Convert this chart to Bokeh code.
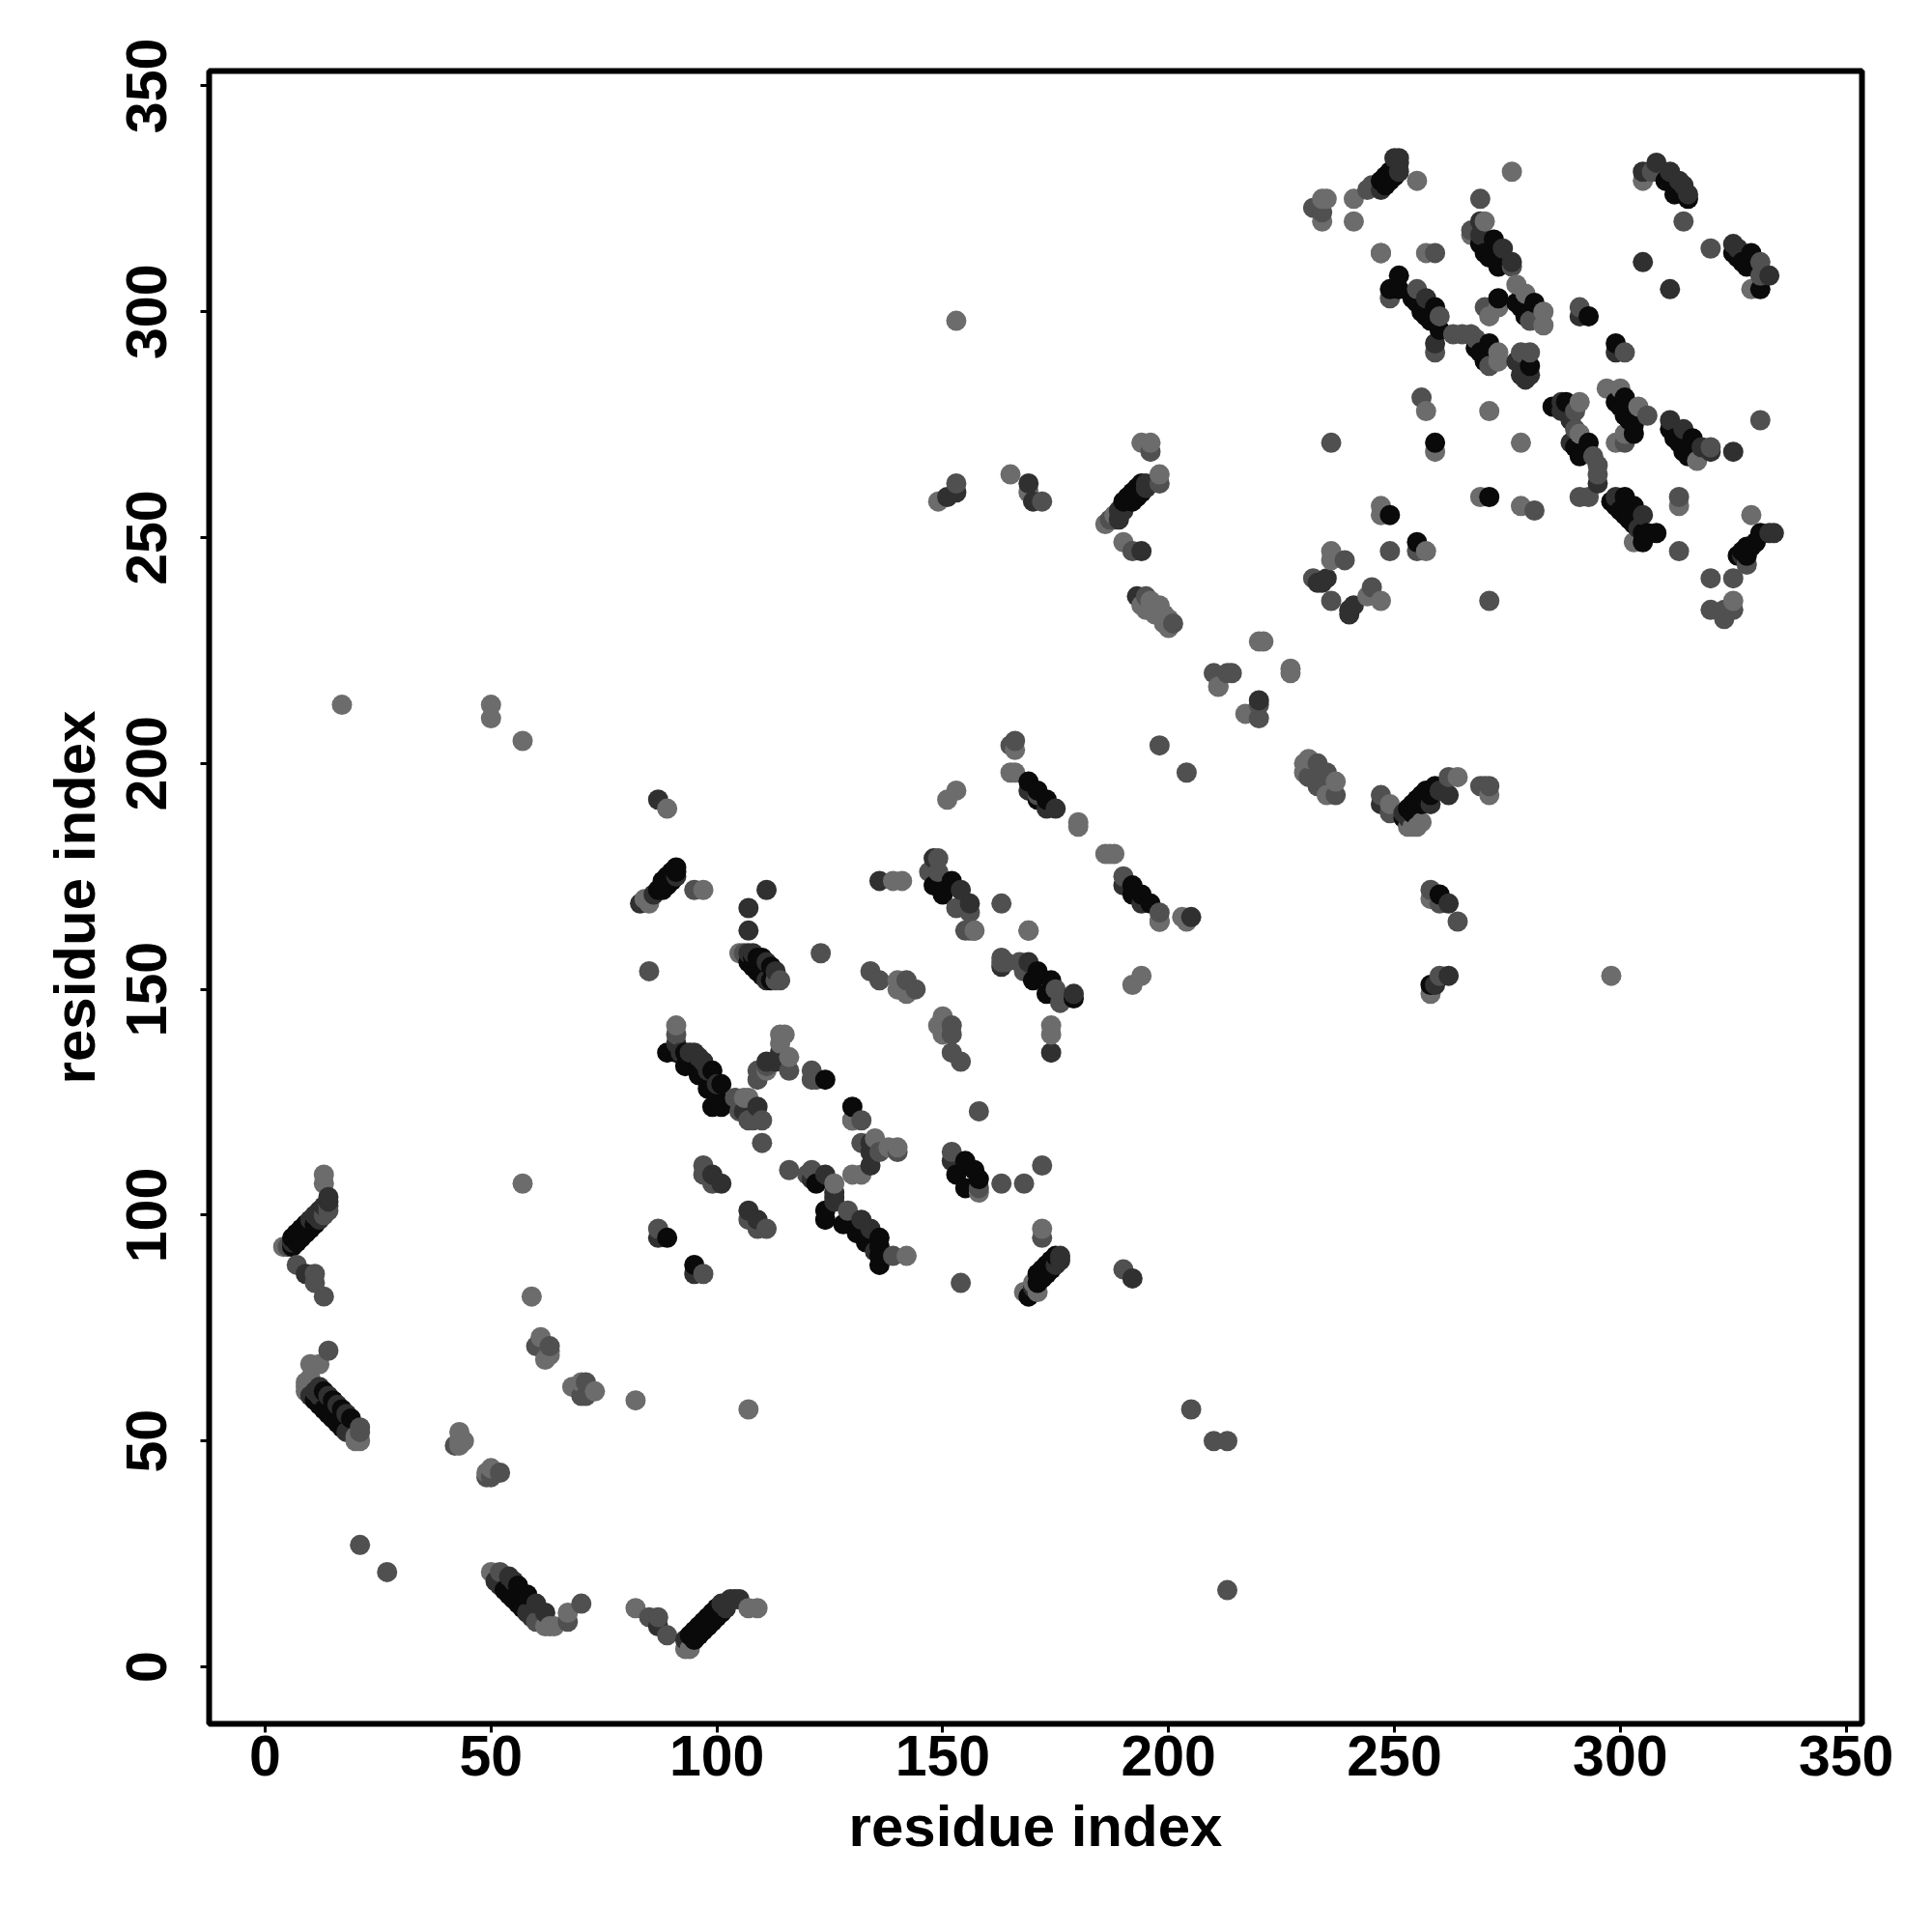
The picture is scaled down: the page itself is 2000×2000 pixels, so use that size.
import numpy as np
from bokeh.plotting import figure
from bokeh.models import FixedTicker, ColumnDataSource, Range1d
from bokeh.embed import file_html
from bokeh.resources import INLINE

tick_values = [0, 50, 100, 150, 200, 250, 300, 350]
axis_title = "residue index"

strongest = [
 (6,95),(7,94),(7,96),(8,95),(8,97),(9,96),(9,98),(10,97),(11,98),(6,93),
 (11,59),(12,58),(13,57),(14,56),(15,55),(16,54),(17,53),(13,61),(15,59),(17,57),(19,55),
 (53,17),(54,16),(55,15),(56,14),(57,13),(56,18),(58,16),
 (94,7),(95,6),(95,8),(96,7),(96,9),(97,8),(97,10),(98,9),(98,11),(99,10),(99,12),(100,11),(100,13),(101,12),
 (108,157),(107,156),(108,155),(109,154),(109,157),(110,153),(110,157),(112,155),(112,152),
 (89,136),(91,136),(93,136),(96,133),(93,133),(96,131),(98,128),(99,132),(101,124),(99,124),(101,129),(100,126),
 (124,130),(130,124),(122,107),(124,101),(124,99),(128,98),(131,96),(133,94),(136,95),(136,93),(136,91),(136,89),
 (89,95),(95,89),(155,112),(157,110),(158,108),(153,109),(155,106),
 (169,82),(171,85),(171,87),(172,86),(172,88),(173,87),(173,89),(174,88),(174,90),(175,91),
 (87,172),(88,172),(88,174),(89,173),(89,175),(90,174),(90,176),(91,176),(91,177),
 (169,196),(171,194),(171,192),(173,192),(192,173),(192,171),(194,171),(196,169),
 (152,174),(148,173),(150,171),(171,154),(174,152),(170,152),(173,149),(179,148),
 (190,258),(191,259),(192,258),(192,260),(193,259),(193,261),(194,260),(194,262),
 (252,188),(253,190),(254,189),(254,191),(255,190),(255,192),(256,191),(256,193),(257,192),(257,194),(258,193),(259,195),
 (248,328),(248,330),(249,329),(249,331),(250,330),(250,332),(247,329),
 (269,315),(272,316),(270,313),(273,310),(271,312),
 (310,329),(312,326),(313,327),(315,325),(314,326),
 (325,313),(326,312),(329,313),(328,310),(327,311),(331,305),
 (251,308),(249,305),(251,305),(254,303),(256,300),(258,298),(259,301),(260,296),(255,302),(257,299),
 (271,293),(268,292),(270,289),(269,291),(280,288),
 (273,303),(277,302),(279,299),(278,301),(281,302),(293,299),(299,293),
 (301,281),(299,280),(301,277),(303,275),(303,273),(300,279),(302,276),
 (285,279),(288,280),(293,271),(291,268),(290,270),
 (301,259),(303,257),(298,258),(300,256),(302,254),(299,257),(301,255),(303,253),(305,251),(308,251),(305,249),(306,251),
 (311,274),(316,272),(312,272),(314,269),(313,271),(315,268),
 (331,251),(330,249),(327,247),(329,248),(328,246),(326,246),(328,248),
 (259,271),(271,259),(249,255),(255,249),(260,171),(258,151),
]
dark = [
 (6,94),(10,99),(11,100),(12,99),(12,101),(13,102),(14,103),(14,104),(9,87),
 (10,60),(11,61),(12,60),(12,62),(14,60),(16,58),(18,56),(18,52),
 (51,19),(52,18),(58,12),(59,11),(54,20),(55,19),(60,14),(62,12),(87,9),(93,6),(101,14),(102,13),(103,15),(104,15),(105,15),
 (107,158),(108,158),(111,156),(111,152),(113,154),(107,163),
 (91,138),(92,136),(94,136),(95,136),(96,135),(97,134),(98,132),(100,129),(109,124),(106,123),(111,134),(113,134),(114,136),(115,134),
 (130,121),(134,116),(134,114),(134,111),(99,109),(101,107),(107,101),(109,99),(87,95),(95,87),
 (121,108),(124,109),(126,105),(126,104),(126,103),(132,99),(134,97),(135,92),
 (152,112),(170,84),(175,89),(176,90),(176,91),(192,86),
 (83,169),(86,171),(91,175),(87,192),(107,168),(111,172),(136,174),
 (169,194),(173,190),(175,190),(190,173),(194,169),
 (148,179),(154,172),(156,169),(157,163),(163,155),(169,156),(179,149),
 (151,259),(153,260),(169,262),(170,258),(194,247),(189,256),(190,256),(195,261),(195,262),(189,254),
 (247,191),(252,189),(253,188),(258,191),(260,194),(261,194),(262,193),
 (247,327),(250,334),(251,331),(251,333),(251,334),
 (269,320),(269,317),(274,314),(276,311),
 (305,331),(308,333),(311,331),(313,329),(315,326),(314,328),(325,315),(326,314),(333,308),(311,305),(305,311),
 (257,303),(259,293),(277,289),(278,286),(279,285),(280,286),(291,299),(299,291),
 (287,280),(287,278),(289,276),(289,271),(295,262),(299,259),(305,255),(304,252),
 (311,276),(314,274),(318,270),(320,269),(325,269),(333,251),(334,251),(327,246),
 (233,240),(234,240),(235,241),(240,233),(241,235),(240,234),(220,214),(205,166),(174,136),
 (259,151),(262,153),(262,169),(193,237),
]
medium = [
 (5,93),(7,89),(11,87),(11,85),(13,82),(13,100),(14,101),(14,102),(14,70),
 (21,53),(21,52),(60,71),(63,71),(71,63),(70,60),(71,60),(42,49),(50,42),(49,42),(52,43),(21,27),(27,21),
 (52,21),(60,10),(67,10),(70,14),(85,11),(87,11),(89,7),(213,17),(205,57),(210,50),(213,50),
 (106,158),(113,152),(114,152),(123,158),(134,154),(136,152),(142,152),(144,150),(163,157),(155,163),(156,163),
 (91,140),(104,126),(107,121),(105,123),(110,121),(108,121),(110,116),(109,132),(109,130),(116,132),(111,133),
 (121,132),(121,130),(122,130),(132,121),(132,116),(136,114),(140,114),(116,110),(121,110),(120,109),
 (97,111),(97,109),(99,107),(107,99),(111,97),(109,97),(87,97),(97,87),
 (129,101),(139,91),(152,114),(158,106),(163,107),(168,107),(172,111),(172,95),(154,85),(190,88),
 (85,154),(95,172),(171,193),(166,205),(165,204),(190,175),(198,204),(204,198),(198,167),(158,123),
 (147,176),(149,176),(156,167),(153,168),(163,169),(164,156),(167,156),(168,154),(175,150),(176,147),
 (149,179),(152,142),(152,140),(152,136),(154,134),(163,156),(169,163),
 (153,262),(172,258),(196,269),(198,262),(192,247),(187,254),(188,254),
 (233,200),(235,198),(231,197),(233,195),(237,193),(247,193),(249,189),
 (244,327),(245,328),(246,328),(232,323),(234,322),(269,325),(259,313),(247,313),
 (267,318),(276,310),(307,331),(314,320),(320,314),(331,311),(331,308),(249,303),(255,305),(260,299),(259,291),
 (263,295),(265,295),(267,295),(268,294),(271,288),(278,291),(280,291),(270,301),(280,298),
 (291,301),(301,291),(306,277),(301,271),(290,278),(290,274),(295,266),(295,264),(294,268),(293,259),(291,259),
 (313,259),(313,247),(320,270),(331,276),(328,244),(325,241),(320,241),(320,234),(323,232),(323,234),(325,234),
 (236,271),(256,281),(281,256),(249,247),(255,247),(239,245),(245,239),(232,241),(236,236),(271,236),
 (220,213),(220,210),(210,220),(211,217),(214,220),(213,220),(264,165),(262,197),(271,195),(269,195),(270,195),
 (258,172),(260,169),(260,153),(201,231),(195,237),(198,165),
]
faint = [
 (4,93),(13,109),(13,107),(10,67),(12,67),(9,61),(9,62),(9,63),(10,64),(20,50),(21,50),(20,51),
 (57,107),(59,82),(61,73),(63,70),(62,68),(63,69),(68,62),(70,63),(73,61),(82,59),(107,57),
 (43,52),(43,49),(43,50),(44,50),(50,44),(49,43),(50,21),(63,9),(62,9),(64,9),(67,12),(82,13),(93,4),(94,4),(107,13),(109,13),
 (105,158),(140,152),(140,150),(142,149),(142,151),(169,163),(157,163),(194,153),(192,151),
 (91,142),(106,126),(107,126),(114,140),(115,140),(114,138),(116,135),(111,132),
 (130,121),(135,117),(138,115),(140,115),(130,109),(132,109),(126,107),(142,91),(158,105),(172,97),(168,83),(171,83),(170,85),
 (17,213),(50,213),(50,210),(57,205),(89,190),(84,170),(85,169),(97,172),(139,174),(141,174),
 (211,217),(217,211),(166,203),(165,198),(166,198),(180,187),(180,186),(186,180),(187,180),(188,180),
 (198,165),(203,166),(204,165),(149,142),(150,144),(150,140),(174,142),(174,140),
 (230,200),(231,201),(237,196),(230,198),(235,193),(249,191),(186,253),(188,255),(190,249),
 (149,258),(165,264),(169,260),(194,271),(196,271),(198,264),
 (253,186),(254,186),(255,186),(256,187),(264,197),(271,193),
 (255,329),(276,331),(241,325),(241,320),(235,325),(234,325),(234,320),(247,313),(257,313),
 (270,320),(267,317),(305,329),(329,305),(273,291),(273,289),(277,306),(279,304),(283,300),(283,297),(273,301),(271,299),
 (297,283),(300,283),(304,279),(299,271),(301,273),(291,280),(291,273),(303,249),(298,153),(153,298),
 (317,267),(313,257),(329,255),(325,236),(259,269),(257,278),(271,278),(278,271),(269,259),(278,257),
 (247,257),(247,255),(257,247),(236,247),(236,245),(244,237),(247,236),
 (220,227),(221,227),(227,221),(227,220),(194,235),(195,234),(196,236),(197,233),(198,235),(199,231),(199,233),(200,232),(200,230),
 (258,170),(258,149),(151,192),(153,194),
]

groups = [(strongest, "#0a0a0a"), (dark, "#303030"), (medium, "#505050"), (faint, "#6c6c6c")]
xs, ys, cols = [], [], []
for pts, c in groups:
    for a, b in pts:
        xs.append(a); ys.append(b); cols.append(c)
order = np.lexsort((np.array(ys), np.array(xs)))
src = ColumnDataSource(dict(
    x=[xs[i] for i in order], y=[ys[i] for i in order], c=[cols[i] for i in order]))

p = figure(width=1984, height=1984, output_backend="svg", toolbar_location=None,
           x_range=Range1d(-12.4, 353.5), y_range=Range1d(-12.6, 353.3),
           min_border_left=216, min_border_right=57, min_border_top=73, min_border_bottom=200)
p.scatter("x", "y", source=src, size=21, marker="circle", fill_color="c", line_color=None)

p.grid.visible = False
p.outline_line_color = "black"
p.outline_line_width = 6
p.outline_line_alpha = 1

for ax in (p.xaxis[0], p.yaxis[0]):
    ax.ticker = FixedTicker(ticks=tick_values)
    ax.axis_line_color = None
    ax.major_tick_line_color = "black"
    ax.major_tick_line_width = 3
    ax.major_tick_in = 0
    ax.major_tick_out = 9
    ax.minor_tick_line_color = None
    ax.axis_label = axis_title
    ax.axis_label_text_font = "Liberation Sans"
    ax.axis_label_text_font_style = "bold"
    ax.axis_label_text_font_size = "60px"
    ax.axis_label_text_color = "black"
    ax.major_label_text_font = "Liberation Sans"
    ax.major_label_text_font_style = "bold"
    ax.major_label_text_font_size = "59px"
    ax.major_label_text_color = "black"

p.xaxis[0].major_label_standoff = 3
p.xaxis[0].axis_label_standoff = 16
p.yaxis[0].major_label_orientation = "vertical"
p.yaxis[0].major_label_standoff = 35
p.yaxis[0].axis_label_standoff = 18

open("out.html", "w").write(file_html(p, INLINE))
